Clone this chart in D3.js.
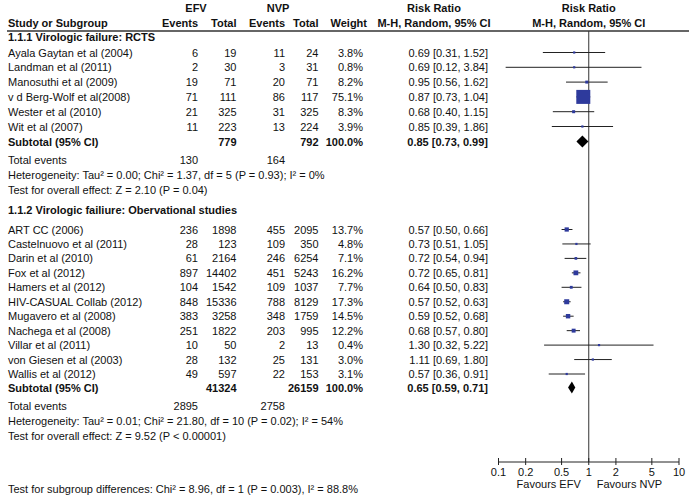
<!DOCTYPE html>
<html><head><meta charset="utf-8">
<script src="https://cdn.jsdelivr.net/npm/d3@7"></script>
<style>body{margin:0;background:#fff}svg{display:block}text{font-family:"Liberation Sans",Arial,sans-serif;font-size:11px;fill:#111}</style>
</head><body>
<script>
// ---- Data ----
const studies1 = ["Ayala Gaytan et al (2004)","Landman et al (2011)","Manosuthi et al (2009)","v d Berg-Wolf et al(2008)","Wester et al (2010)","Wit et al (2007)"];
const efvEvents1 = [6,2,19,71,21,11];
const efvTotal1 = [19,30,71,111,325,223];
const nvpEvents1 = [11,3,20,86,31,13];
const nvpTotal1 = [24,31,71,117,325,224];
const weight1 = [3.8,0.8,8.2,75.1,8.3,3.9];
const rr1 = [0.69,0.69,0.95,0.87,0.68,0.85];
const lo1 = [0.31,0.12,0.56,0.73,0.40,0.39];
const hi1 = [1.52,3.84,1.62,1.04,1.15,1.86];
const sub1 = {efvTotal:779,nvpTotal:792,efvEv:130,nvpEv:164,rr:0.85,lo:0.73,hi:0.99};
const het1 = "Heterogeneity: Tau² = 0.00; Chi² = 1.37, df = 5 (P = 0.93); I² = 0%";
const eff1 = "Test for overall effect: Z = 2.10 (P = 0.04)";

const studies2 = ["ART CC (2006)","Castelnuovo et al (2011)","Darin et al (2010)","Fox et al (2012)","Hamers et al (2012)","HIV-CASUAL Collab (2012)","Mugavero et al (2008)","Nachega et al (2008)","Villar et al (2011)","von Giesen et al (2003)","Wallis et al (2012)"];
const efvEvents2 = [236,28,61,897,104,848,383,251,10,28,49];
const efvTotal2 = [1898,123,2164,14402,1542,15336,3258,1822,50,132,597];
const nvpEvents2 = [455,109,246,451,109,788,348,203,2,25,22];
const nvpTotal2 = [2095,350,6254,5243,1037,8129,1759,995,13,131,153];
const weight2 = [13.7,4.8,7.1,16.2,7.7,17.3,14.5,12.2,0.4,3.0,3.1];
const rr2 = [0.57,0.73,0.72,0.72,0.64,0.57,0.59,0.68,1.30,1.11,0.57];
const lo2 = [0.50,0.51,0.54,0.65,0.50,0.52,0.52,0.57,0.32,0.69,0.36];
const hi2 = [0.66,1.05,0.94,0.81,0.83,0.63,0.68,0.80,5.22,1.80,0.91];
const sub2 = {efvTotal:41324,nvpTotal:26159,efvEv:2895,nvpEv:2758,rr:0.65,lo:0.59,hi:0.71};
const het2 = "Heterogeneity: Tau² = 0.01; Chi² = 21.80, df = 10 (P = 0.02); I² = 54%";
const eff2 = "Test for overall effect: Z = 9.52 (P < 0.00001)";

const axisTicks = [0.1,0.2,0.5,1,2,5,10];
const subgroupTest = "Test for subgroup differences: Chi² = 8.96, df = 1 (P = 0.003), I² = 88.8%";

// ---- Layout ----
const W = 689, H = 498;
const svg = d3.select("body").append("svg").attr("width",W).attr("height",H);
const x = d3.scaleLog().domain([0.1,10]).range([498.5,679]);
const sz = d3.scalePow().exponent(0.7).domain([0,75.1]).range([0,14]);
const col = {name:8, efvEv:198, efvTot:236.5, nvpEv:285, nvpTot:318.5, wt:363, rr:488, rrHead:434};
const f2 = d3.format(".2f"), f1 = d3.format(".1f");
const fmtRR = (r,l,h)=>`${f2(r)} [${f2(l)}, ${f2(h)}]`;

function txt(t,xx,yc,anchor,bold){
  svg.append("text").attr("x",xx).attr("y",yc+4).attr("text-anchor",anchor||"start")
    .attr("font-weight",bold?"bold":null).text(t);
}

// headers
txt("EFV",196,8,"middle",true);
txt("NVP",278,8,"middle",true);
txt("Risk Ratio",col.rrHead,8,"middle",true);
txt("Risk Ratio",x(1),8,"middle",true);
txt("Study or Subgroup",col.name,23,"start",true);
txt("Events",col.efvEv,23,"end",true);
txt("Total",col.efvTot,23,"end",true);
txt("Events",col.nvpEv,23,"end",true);
txt("Total",col.nvpTot,23,"end",true);
txt("Weight",col.wt+4,23,"end",true);
txt("M-H, Random, 95% CI",col.rrHead,23,"middle",true);
txt("M-H, Random, 95% CI",x(1),23,"middle",true);
svg.append("line").attr("x1",7).attr("x2",W).attr("y1",31).attr("y2",31).attr("stroke","#333").attr("stroke-width",1.5);

// vertical line of no effect
svg.append("line").attr("x1",x(1)).attr("x2",x(1)).attr("y1",31).attr("y2",462).attr("stroke","#333").attr("stroke-width",1);

function group(title, yTitle, y0, step, ySub, names, ee, et, ne, nt, wt, rr, lo, hi, sub, het, eff){
  txt(title,col.name,yTitle,"start",true);
  names.forEach((n,i)=>{
    const yc = y0 + i*step;
    txt(n,col.name,yc);
    txt(ee[i],col.efvEv,yc,"end");
    txt(et[i],col.efvTot,yc,"end");
    txt(ne[i],col.nvpEv,yc,"end");
    txt(nt[i],col.nvpTot,yc,"end");
    txt(f1(wt[i])+"%",col.wt,yc,"end");
    txt(fmtRR(rr[i],lo[i],hi[i]),col.rr,yc,"end");
    svg.append("line").attr("x1",x(lo[i])).attr("x2",x(hi[i])).attr("y1",yc).attr("y2",yc)
      .attr("stroke","#222").attr("stroke-width",1);
    const s = Math.max(2.2, sz(wt[i]));
    svg.append("rect").attr("x",x(rr[i])-s/2).attr("y",yc-s/2).attr("width",s).attr("height",s).attr("fill","#2E3A9C");
  });
  const ys = ySub;
  txt("Subtotal (95% CI)",col.name,ys,"start",true);
  txt(sub.efvTotal,col.efvTot,ys,"end",true);
  txt(sub.nvpTotal,col.nvpTot,ys,"end",true);
  txt("100.0%",col.wt,ys,"end",true);
  txt(fmtRR(sub.rr,sub.lo,sub.hi),col.rr,ys,"end",true);
  const dh = 6;
  svg.append("path").attr("d",`M${x(sub.lo)},${ys}L${x(sub.rr)},${ys-dh}L${x(sub.hi)},${ys}L${x(sub.rr)},${ys+dh}Z`).attr("fill","#000");
  const yt = ys + 18;
  txt("Total events",col.name,yt);
  txt(sub.efvEv,col.efvEv,yt,"end");
  txt(sub.nvpEv,col.nvpEv,yt,"end");
  txt(het,col.name,yt+15);
  txt(eff,col.name,yt+30);
}

group("1.1.1 Virologic failure: RCTS",37,52.5,14.8,141.5,studies1,efvEvents1,efvTotal1,nvpEvents1,nvpTotal1,weight1,rr1,lo1,hi1,sub1,het1,eff1);
group("1.1.2 Virologic failiure: Obervational studies",209.5,229.5,14.45,387.5,studies2,efvEvents2,efvTotal2,nvpEvents2,nvpTotal2,weight2,rr2,lo2,hi2,sub2,het2,eff2);

// axis
const ax = svg.append("g").attr("transform","translate(0,462)");
ax.append("line").attr("x1",x(0.1)).attr("x2",x(10)).attr("stroke","#222");
ax.selectAll("line.t").data(axisTicks).enter().append("line").attr("class","t")
  .attr("x1",d=>x(d)).attr("x2",d=>x(d)).attr("y1",-4).attr("y2",3).attr("stroke","#222");
ax.selectAll("text").data(axisTicks).enter().append("text").attr("x",d=>x(d)).attr("y",14)
  .attr("text-anchor","middle").text(d=>d);
txt("Favours EFV",x(1)-8,484,"end");
txt("Favours NVP",x(1)+8,484,"start");
txt(subgroupTest,col.name,488.5);
</script>
</body></html>
